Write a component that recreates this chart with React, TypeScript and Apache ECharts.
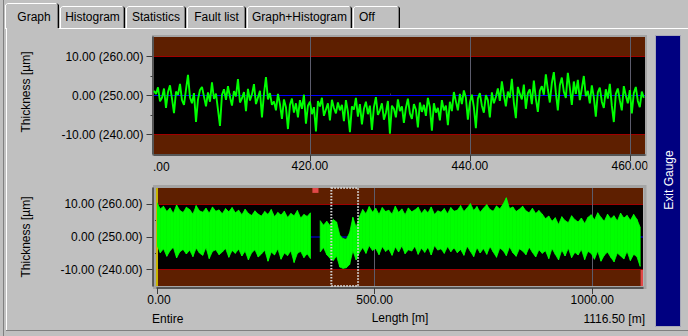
import React, { useEffect, useRef } from "react";
import * as echarts from "echarts";

// ---------- data ----------
const tabLabels = ["Graph", "Histogram", "Statistics", "Fault list", "Graph+Histogram", "Off"];
const nominalThickness = 250;
const yRange = [-15, 15];
const yTickValues = [-10, 0, 10];
const yMinorTickValues = [-5, 5];
const toleranceLimits = [-10, 10];
const targetDeviation = 0;

// detail (zoomed) window
const detailRange = [400.5, 461.9];
const detailStep = 0.25;
const detailTickValues = [420, 440, 460];
const detailMinorTicks = [410, 430, 450];
const detailThickness = [
  1.2, 0.4, 2.1, -1.5, -0.6, 1.8, -3.2, 0.9, 2.6, -0.8,
  -4.5, 1.0, 0.2, 3.0, -1.2, -2.4, 1.5, 5.3, -0.5, -2.0,
  0.6, -6.8, -1.0, 1.4, 2.2, -0.3, -2.8, 0.8, -1.6, 3.4,
  -0.9, 0.5, -3.6, -7.8, 0.2, 1.6, -1.1, 2.4, -0.4, -2.6,
  1.1, -0.2, 4.2, -1.8, -0.7, 0.9, -4.0, 1.7, -1.3, 0.3,
  2.9, -2.2, -0.5, 1.2, -5.6, 0.4, 4.7, -1.0, 0.6, -2.4,
  -1.5, -3.8, 0.4, -2.2, -6.0, -1.0, -3.0, -8.6, -2.4, -0.8,
  -4.4, -2.0, -5.6, -1.2, -3.4, 0.2, -7.2, -2.6, -1.6, -4.8,
  -3.0, -9.2, -1.4, -2.8, -0.6, -5.2, -3.6, -2.0, -6.4, -1.1,
  -3.2, -4.6, -1.8,
  -3.8, -2.4, -6.6, -1.2, -4.2, -9.4, -2.8, -3.6, -0.6, -5.4,
  -2.2, -7.4, -3.4, -1.6, -4.8, -2.6, -8.8, -3.0, -0.4, -5.0,
  -3.8, -2.0, -6.2, -4.4, -1.4, -9.8, -2.6, -3.4, -5.6, -1.0,
  -4.0, -2.8, -7.0, -3.2, -0.8, -4.6, -6.0, -2.2, -3.6, -8.2,
  -1.8, -4.2, -2.4, -5.2, -0.6, -3.0, -9.0, -2.0, -4.4, -3.2,
  -6.4, -1.2, -3.8, -2.6, -7.6, -1.6, -4.0,
  0.9, -1.5, -3.8, 0.4, -2.2, 1.3, -0.6, -6.2, -1.8, 0.2,
  -3.0, -8.4, -0.8, 0.6, -2.6, -4.4, 0.1, -1.2, -5.6, 0.8,
  -2.0, -0.4,
  1.8, -1.4, 3.6, 0.2, -2.8, 1.0, -0.6, 4.3, -1.8, -5.8,
  2.2, 0.4, -1.0, 2.8, -3.4, 0.6, 1.6, -2.2, 3.8, -0.8,
  -4.2, 1.2,
  2.4, 0.2, 5.4, 1.6, -1.8, 3.2, 6.0, 0.8, -3.8, 2.6,
  4.6, 1.0, -0.6, 5.8, 2.0, -2.4, 3.6, 0.4, 4.0, -1.2,
  1.8, 5.0, -0.2,
  1.2, -2.0, 2.6, -0.4, -5.4, 0.8, 2.0, -1.6, -3.2, 1.6,
  -0.8, 3.0, -2.6, -6.8, 0.4, 1.8, -1.2, -3.8, 2.4, 0.0,
  -2.0, 1.4, -4.6, 0.6, 2.2, -1.4, -3.0, 1.0, -0.6,
];

// overview (entire coil): max / min per length bin
const overviewLength = 1116.5;
const overviewBin = 7.5;
const overviewTickValues = [0, 500, 1000];
const overviewMinorTicks = [250, 750];
const overviewHigh: (number | null)[] = [
  10.5, 8.6, 9.4, 7.8, 8.9, 7.2, 9.8, 8.1, 7.5, 9.1,
  8.4, 7.0, 9.6, 8.0, 7.6, 8.8, 7.3, 9.2, 7.9, 8.3,
  7.1, 8.7, 7.7, 9.0, 7.4, 8.2, 6.8, 8.5, 7.2, 6.6,
  8.0, 7.0, 6.4, 7.8, 6.9, 8.4, 6.2, 7.5, 6.7, 7.9,
  6.0, 7.2, 6.5, 8.1, 5.8, 6.9, 6.3, 7.4,
  null, null,
  5.0, 3.6, 4.8,
  3.5, 5.3, 4.6, 0.5, -0.5, -0.7, 1.3, 6.0, 3.0, 6.2,
  8.4, 7.1, 9.3, 7.6, 8.8, 6.9, 9.0, 7.8, 8.2, 7.0,
  9.4, 7.5, 8.6, 6.8, 8.9, 7.7, 8.3, 9.1, 7.2, 8.5,
  7.4, 9.2, 6.9, 8.0, 7.6, 8.7, 7.1, 9.0, 7.9, 8.2,
  9.6, 7.8, 8.9, 10.2, 8.1, 9.3, 7.6, 8.8, 9.9, 8.4,
  7.9, 9.5, 8.6, 10.0, 12.0, 8.7, 9.2, 7.8, 8.5, 9.4,
  8.0, 7.4, 8.8, 7.2, 8.1, 7.0,
  5.6, 6.4, 4.8, 5.9, 3.8, 6.2, 5.0, 4.4, 6.5, 5.3,
  4.6, 5.8, 4.1, 6.0,
  6.8, 5.2, 7.4, 6.0, 4.8, 7.0, 5.6, 6.5, 4.9, 7.3,
  5.8, 6.6, 5.1, 6.9, 5.4,
  3.0,
];
const overviewLow: (number | null)[] = [
  -2.5, -4.8, -3.6, -5.9, -4.2, -3.1, -6.4, -4.5, -3.8, -5.2,
  -4.0, -6.0, -3.4, -4.9, -5.6, -3.2, -6.6, -4.4, -3.9, -5.4,
  -4.6, -3.5, -6.2, -4.1, -5.0, -3.7, -5.8, -4.3, -7.0, -4.8,
  -3.9, -6.1, -5.2, -4.0, -7.4, -4.6, -5.5, -3.6, -6.8, -4.9,
  -5.7, -4.2, -7.8, -5.0, -4.4, -6.3, -5.1, -6.6,
  null, null,
  -4.6, -3.2, -5.4,
  -6.5, -7.2, -5.8, -9.2, -9.6, -9.4, -8.4, -4.2, -7.0, -4.8,
  -3.2, -5.0, -2.6, -4.1, -3.5, -5.4, -2.9, -4.4, -3.7, -5.6,
  -3.0, -4.6, -2.7, -5.1, -3.9, -4.3, -2.8, -5.3, -3.4, -4.7,
  -3.1, -5.5, -2.6, -4.0, -3.6, -5.0, -2.9, -4.5, -3.3, -4.8,
  -3.8, -5.6, -2.8, -4.4, -6.0, -3.2, -4.9, -3.5, -5.3, -2.9,
  -4.6, -6.2, -3.4, -4.1, -5.7, -3.0, -4.8, -5.9, -3.6, -4.3,
  -5.4, -3.1, -4.7, -6.1, -3.9, -5.0,
  -4.2, -6.6, -3.5, -5.3, -7.0, -4.0, -5.8, -3.4, -6.3, -4.7,
  -5.5, -3.8, -6.9, -4.4,
  -5.0, -6.8, -4.3, -7.4, -5.6, -4.6, -6.2, -7.6, -4.9, -5.8,
  -6.7, -4.4, -7.2, -5.3, -6.0,
  -9.0,
];
// fault marks: [from m, to m, lower µm, upper µm]
const faultMarks = [
  [357, 371, 13.5, 15],
  [1111, 1116.5, -15, -10],
];

// ---------- styling ----------
const FONT = "'Liberation Sans', Arial, sans-serif";
const PANEL = "#c0c0c0";
const BROWN = "#5e1f00";
const LIMIT_RED = "#a00000";
const GRID_GREY = "#5c5c6c";
const AXIS = "#3c3c3c";
const GREEN = "#00ff00";
const TARGET_BLUE = "#0000ff";

const yLabel = (v: number) => `${v.toFixed(2)} (${(nominalThickness + v).toFixed(2)})`;

function buildOption() {
  const detailData = detailThickness.map((v, i) => [detailRange[0] + i * detailStep, v]);
  const overviewRows = overviewHigh.map((h, i) => [i * overviewBin, h, overviewLow[i]]);

  const bands = [
    [{ yAxis: toleranceLimits[1] }, { yAxis: yRange[1] }],
    [{ yAxis: yRange[0] }, { yAxis: toleranceLimits[0] }],
  ];
  const limitLines = toleranceLimits.map((v) => ({
    yAxis: v,
    lineStyle: { color: LIMIT_RED, width: 1, type: "solid" },
  }));

  const label12 = { color: "#000", fontSize: 12, fontFamily: FONT };

  const mainY = (gridIndex: number, offset: number, margin: number) => ({
    type: "value",
    gridIndex,
    min: yRange[0],
    max: yRange[1],
    position: "left",
    offset,
    splitLine: { show: false },
    axisLine: { show: true, onZero: false, lineStyle: { color: AXIS, width: 1.5 } },
    axisTick: { show: true, length: 6, customValues: yTickValues, lineStyle: { color: AXIS, width: 1 } },
    axisLabel: { ...label12, margin, customValues: yTickValues, formatter: (v: number) => yLabel(v) },
  });
  const minorY = (gridIndex: number, offset: number) => ({
    type: "value",
    gridIndex,
    min: yRange[0],
    max: yRange[1],
    position: "left",
    offset,
    splitLine: { show: false },
    axisLine: { show: false },
    axisTick: { show: true, length: 2, customValues: yMinorTickValues, lineStyle: { color: AXIS, width: 1 } },
    axisLabel: { show: false },
  });

  // tabs
  const tabX = [
    [5, 59],
    [60, 125],
    [126, 186],
    [187, 246],
    [247, 352],
    [353, 400],
  ];
  const tabEls: any[] = [];
  tabLabels.forEach((t, i) => {
    const [x0, x1] = tabX[i];
    const active = i === 0;
    const y0 = active ? 3 : 6;
    tabEls.push({
      type: "polyline",
      shape: { points: [[x0 + 0.5, 29], [x0 + 0.5, y0 + 2], [x0 + 2.5, y0 + 0.5], [x1 - 2, y0 + 0.5]] },
      style: { stroke: "#ffffff", fill: null, lineWidth: 1 },
    });
    tabEls.push({
      type: "polyline",
      shape: { points: [[x1 - 2, y0 + 0.5], [x1 - 0.5, y0 + 2], [x1 - 0.5, 28]] },
      style: { stroke: "#000000", fill: null, lineWidth: 1 },
    });
    tabEls.push({
      type: "line",
      shape: { x1: x1 - 1.5, y1: y0 + 2, x2: x1 - 1.5, y2: 28 },
      style: { stroke: "#808080", lineWidth: 1 },
    });
    tabEls.push({
      type: "text",
      x: i === 5 ? x0 + 6 : (x0 + x1) / 2 + (active ? 2 : 0),
      y: 17,
      style: {
        text: t,
        fill: "#000",
        fontSize: 12,
        fontFamily: FONT,
        align: i === 5 ? "left" : "center",
        textAlign: i === 5 ? "left" : "center",
        verticalAlign: "middle",
        textVerticalAlign: "middle",
      },
    });
  });

  const txt = (text: string, x: number, y: number, align: string, extra: any = {}) => ({
    type: "text",
    x,
    y,
    z: 50,
    ...extra,
    style: {
      text,
      fill: extra.fill || "#000",
      fontSize: 12,
      fontFamily: FONT,
      align,
      textAlign: align,
      verticalAlign: "middle",
      textVerticalAlign: "middle",
    },
  });

  const graphicEls: any[] = [
    // window / panel frame
    { type: "line", shape: { x1: 3.5, y1: 0, x2: 3.5, y2: 336 }, style: { stroke: "#808080", lineWidth: 1 } },
    { type: "line", shape: { x1: 6.5, y1: 28, x2: 6.5, y2: 331 }, style: { stroke: "#ffffff", lineWidth: 1 } },
    { type: "line", shape: { x1: 59, y1: 28.5, x2: 688, y2: 28.5 }, style: { stroke: "#ffffff", lineWidth: 1 } },
    { type: "line", shape: { x1: 6, y1: 330.5, x2: 688, y2: 330.5 }, style: { stroke: "#808080", lineWidth: 1 } },
    ...tabEls,
    // plot frames
    { type: "rect", shape: { x: 153, y: 36, width: 493, height: 119 }, style: { fill: null, stroke: "#a4a4a4", lineWidth: 2 } },
    { type: "rect", shape: { x: 154.5, y: 186.5, width: 490.5, height: 101 }, style: { fill: null, stroke: "#a4a4a4", lineWidth: 3 } },
    // axis names
    txt("Thickness [µm]", 26, 92, "center", { rotation: Math.PI / 2 }),
    txt("Thickness [µm]", 26, 237, "center", { rotation: Math.PI / 2 }),
    // clipped first label of the detail axis
    txt(".00", 153, 167, "left"),
    // panel edge clipping the last label
    { type: "rect", z: 60, shape: { x: 647.5, y: 157, width: 7, height: 22 }, style: { fill: PANEL } },
    txt("Entire", 152, 318.5, "left"),
    txt(`${overviewLength.toFixed(2)} [m]`, 645, 318.5, "right"),
    // Exit gauge panel
    { type: "rect", z: 40, shape: { x: 655.5, y: 35.5, width: 25, height: 291 }, style: { fill: "#000080", stroke: "#a8a8b8", lineWidth: 1 } },
    txt("Exit Gauge", 668.5, 180, "center", { rotation: Math.PI / 2, fill: "#ffffff" }),
  ];

  return {
    animation: false,
    backgroundColor: PANEL,
    textStyle: { fontFamily: FONT },
    grid: [
      { left: 154, top: 37, width: 491, height: 117, show: true, backgroundColor: "#000", borderWidth: 0 },
      { left: 157, top: 188, width: 486, height: 98, show: true, backgroundColor: "#000", borderWidth: 0 },
    ],
    xAxis: [
      {
        type: "value",
        gridIndex: 0,
        min: detailRange[0],
        max: detailRange[1],
        offset: 1,
        splitLine: { show: false },
        axisLine: { show: true, onZero: false, lineStyle: { color: AXIS, width: 1.5 } },
        axisTick: { show: true, length: 6, customValues: detailTickValues, lineStyle: { color: AXIS, width: 1 } },
        axisLabel: { ...label12, margin: 5, customValues: detailTickValues, formatter: (v: number) => v.toFixed(2) },
      },
      {
        type: "value",
        gridIndex: 0,
        min: detailRange[0],
        max: detailRange[1],
        offset: 1,
        splitLine: { show: false },
        axisLine: { show: false },
        axisTick: { show: true, length: 2, customValues: detailMinorTicks, lineStyle: { color: AXIS, width: 1 } },
        axisLabel: { show: false },
      },
      {
        type: "value",
        gridIndex: 1,
        min: 0,
        max: overviewLength,
        offset: 2,
        name: "Length [m]",
        nameLocation: "middle",
        nameGap: 24,
        nameTextStyle: { ...label12 },
        splitLine: { show: false },
        axisLine: { show: true, onZero: false, lineStyle: { color: AXIS, width: 1.5 } },
        axisTick: { show: true, length: 6, customValues: overviewTickValues, lineStyle: { color: AXIS, width: 1 } },
        axisLabel: {
          ...label12,
          margin: 6,
          customValues: overviewTickValues,
          formatter: (v: number) => (v === 0 ? `{first|${v.toFixed(2)}}` : v.toFixed(2)),
          rich: { first: { ...label12, padding: [0, 0, 0, 4] } },
        },
      },
      {
        type: "value",
        gridIndex: 1,
        min: 0,
        max: overviewLength,
        offset: 2,
        splitLine: { show: false },
        axisLine: { show: false },
        axisTick: { show: true, length: 3, customValues: overviewMinorTicks, lineStyle: { color: AXIS, width: 1 } },
        axisLabel: { show: false },
      },
    ],
    yAxis: [mainY(0, 1.5, 9), minorY(0, 1.5), mainY(1, 4.5, 10), minorY(1, 4.5)],
    series: [
      {
        name: "Target detail",
        type: "line",
        xAxisIndex: 0,
        yAxisIndex: 0,
        z: 2,
        symbol: "none",
        silent: true,
        data: [
          [detailRange[0], targetDeviation],
          [detailRange[1], targetDeviation],
        ],
        lineStyle: { color: TARGET_BLUE, width: 1 },
        markArea: { silent: true, itemStyle: { color: BROWN }, data: bands },
        markLine: {
          silent: true,
          symbol: ["none", "none"],
          label: { show: false },
          data: [
            ...limitLines,
            ...detailTickValues.map((v) => ({ xAxis: v, lineStyle: { color: GRID_GREY, width: 1, type: "solid" } })),
          ],
        },
      },
      {
        name: "Thickness detail",
        type: "line",
        xAxisIndex: 0,
        yAxisIndex: 0,
        z: 10,
        symbol: "none",
        silent: true,
        clip: true,
        data: detailData,
        lineStyle: { color: GREEN, width: 1.9 },
      },
      {
        name: "Target overview",
        type: "line",
        xAxisIndex: 2,
        yAxisIndex: 2,
        z: 2,
        symbol: "none",
        silent: true,
        data: [
          [0, targetDeviation],
          [overviewLength, targetDeviation],
        ],
        lineStyle: { color: TARGET_BLUE, width: 1 },
        markArea: {
          silent: true,
          itemStyle: { color: BROWN },
          data: [
            ...bands,
            ...faultMarks.map((f) => [
              { xAxis: f[0], yAxis: f[2], itemStyle: { color: "#e04848" } },
              { xAxis: f[1], yAxis: f[3] },
            ]),
          ],
        },
        markLine: {
          silent: true,
          symbol: ["none", "none"],
          label: { show: false },
          data: [
            ...limitLines,
            ...overviewTickValues
              .filter((v) => v > 0)
              .map((v) => ({ xAxis: v, lineStyle: { color: GRID_GREY, width: 1, type: "solid" } })),
            { xAxis: 0, lineStyle: { color: "#c8b400", width: 2, type: "solid" } },
          ],
        },
      },
      {
        name: "Thickness overview",
        type: "custom",
        xAxisIndex: 2,
        yAxisIndex: 2,
        z: 10,
        silent: true,
        clip: true,
        data: overviewRows,
        renderItem: (params: any, api: any) => {
          const i = params.dataIndex;
          const a = overviewRows[i];
          const b = overviewRows[i + 1];
          if (!b || a[1] === null || b[1] === null) return null;
          const pts = [
            api.coord([a[0], a[1]]),
            api.coord([b[0], b[1]]),
            api.coord([b[0], b[2]]),
            api.coord([a[0], a[2]]),
          ];
          return {
            type: "polygon",
            shape: { points: pts },
            style: { fill: GREEN, stroke: GREEN, lineWidth: 0.8 },
          };
        },
      },
      {
        name: "Detail window",
        type: "custom",
        xAxisIndex: 2,
        yAxisIndex: 2,
        z: 12,
        silent: true,
        data: [[detailRange[0], detailRange[1]]],
        renderItem: (params: any, api: any) => {
          const p0 = api.coord([api.value(0), yRange[1]]);
          const p1 = api.coord([api.value(1), yRange[0]]);
          return {
            type: "rect",
            shape: { x: p0[0], y: p0[1], width: p1[0] - p0[0], height: p1[1] - p0[1] },
            style: { fill: "none", stroke: "#d4d4d4", lineWidth: 2, lineDash: [1.5, 1.5] },
          };
        },
      },
    ],
    graphic: { elements: graphicEls },
  };
}

export default function App() {
  const ref = useRef<HTMLDivElement>(null);
  useEffect(() => {
    if (!ref.current) return;
    const chart = echarts.init(ref.current, null, { renderer: "svg" });
    chart.setOption(buildOption() as any);
    return () => chart.dispose();
  }, []);
  return (
    <div
      ref={ref}
      style={{ position: "absolute", left: 0, top: 0, width: 688, height: 336, background: PANEL }}
    />
  );
}
